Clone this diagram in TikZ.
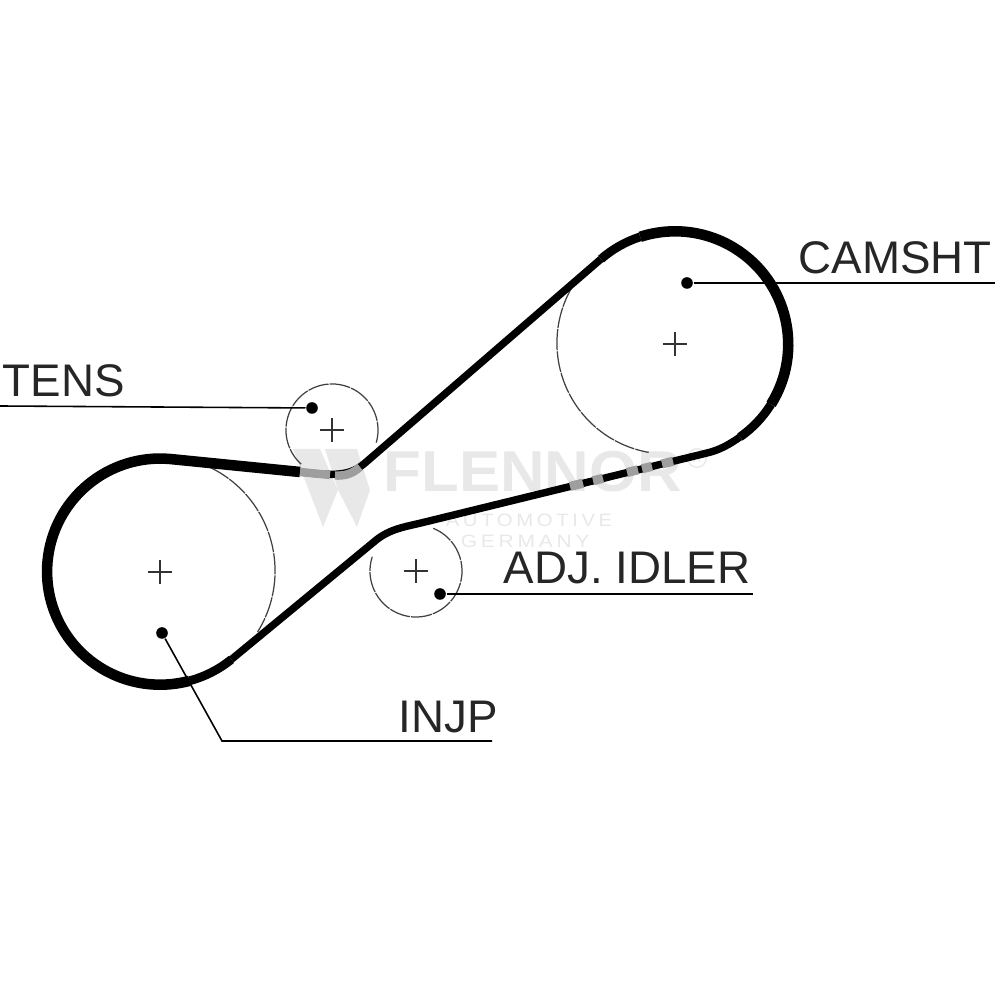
\documentclass[tikz,border=0pt]{standalone}
\usepackage{fontspec}
\setmainfont{Liberation Sans}
\newfontfamily\markfont[LetterSpace=18]{Liberation Sans}
\definecolor{markgray}{gray}{0.91}
\definecolor{beltgray}{gray}{0.62}
\tikzset{
	beltthick/.style = {line width = 3pt},
	beltmid/.style = {line width = 2.5pt},
	beltthin/.style = {line width = 2.1pt},
	beltgap/.style = {line width = 2.4pt, beltgray},
	rim/.style = {line width = 0.35pt, black!75, dash pattern = on 6pt off 0.3pt},
	hubmark/.style = {line width = 0.4pt, black!80},
	pin/.style = {circle, fill, inner sep = 0pt, minimum size = 3.3pt},
	leader/.style = {line width = 0.45pt},
	tag/.style = {anchor = base west, inner sep = 0pt, black!85, font = \fontsize{13}{13}\selectfont},
	brand/.style = {anchor = base west, inner sep = 0pt, markgray}
}
\begin{document}
\begin{tikzpicture}[x = 0.01cm, y = 0.01cm]
\useasboundingbox (0, 0) rectangle (1000, 1000);
% watermark
\fill[markgray] (293, 551) -- (320, 551) -- (338, 510) -- (323, 473) -- cycle;
\fill[markgray] (325, 551) -- (357, 551) -- (370, 510) -- (357, 473) -- (338, 510) -- cycle;
\node[brand, xscale = 1.07, font = \fontsize{16.4}{16.4}\selectfont\bfseries] (flennor) at (383, 508) {FLENNOR};
\node[brand, xscale = 1.13, font = \fontsize{5.1}{5.1}\markfont] (automotive) at (445, 473) {AUTOMOTIVE};
\node[brand, xscale = 1.17, font = \fontsize{5.1}{5.1}\markfont] (germany) at (460, 452) {GERMANY};
\node[draw = markgray, circle, inner sep = 0.6pt, markgray, font = \fontsize{3.6}{3.6}\selectfont] (regmark) at (697, 542) {R};
% pulleys
\coordinate (injp) at (160, 428);
\coordinate (cam) at (675, 656);
\coordinate (tens) at (332, 570);
\coordinate (idler) at (416, 429);
\draw[rim] (668, 657) ++(150:1.11cm) arc[start angle = 150, end angle = 260, radius = 1.11cm];
\draw[rim] (160, 429) ++(64:1.15cm) arc[start angle = 64, end angle = -32, radius = 1.15cm];
\draw[rim] (tens) ++(-16:0.46cm) arc[start angle = -16, end angle = 228, radius = 0.46cm];
\draw[rim] (idler) ++(68:0.46cm) arc[start angle = 68, end angle = -198, radius = 0.46cm];
\foreach \hub in {injp, cam, tens, idler}
	\draw[hubmark] (\hub) +(-12, 0) -- +(12, 0) (\hub) +(0, -12) -- +(0, 12);
% belt
\coordinate (camlow) at (740, 563);
\coordinate (tensright) at (365, 537);
\coordinate (tensleft) at (300, 528);
\coordinate (idlerleft) at (375, 459);
\coordinate (idlertop) at (425, 478);
\coordinate (camin) at (707, 547);
\draw[beltmid] (camlow) arc[start angle = -55, end angle = -32, radius = 1.13cm] coordinate (camright);
\draw[beltthick] (camright) arc[start angle = -32, end angle = 108, radius = 1.13cm] coordinate (camupper);
\draw[beltmid] (camupper) arc[start angle = 108, end angle = 131, radius = 1.13cm] coordinate (camtop);
\draw[beltthin] (camtop) -- (tensright) .. controls (350, 524) and (335, 524) .. (tensleft);
\draw[beltthick] (tensleft) -- (170, 541) arc[start angle = 85, end angle = 285, radius = 1.13cm] coordinate (injbase);
\draw[beltmid] (injbase) arc[start angle = 285, end angle = 309, radius = 1.13cm] coordinate (injlow);
\draw[beltthin] (injlow) -- (idlerleft) .. controls (390, 471.5) and (405, 473) .. (idlertop) -- (camin) .. controls (720, 550) and (730, 556) .. (camlow);
% belt under the letters
\draw[beltgap] (300, 528) -- (330, 525) (335, 524.5) .. controls (345, 524) and (352, 526) .. (360, 533);
\foreach \a/\b in {570/583, 593/603, 627/638, 642/652, 662/673}
	\draw[beltgap, line width = 2.6pt] (\a, {477 + 0.244*(\a - 420)}) -- (\b, {477 + 0.244*(\b - 420)});
% labels
\node[pin] (campin) at (687, 717) {};
\node[pin] (tenspin) at (312, 592) {};
\node[pin] (idlerpin) at (440, 406) {};
\node[pin] (injppin) at (162, 367) {};
\coordinate (camend) at (995, 717);
\coordinate (tensend) at (0, 594);
\coordinate (idlerend) at (753, 406);
\coordinate (injpknee) at (222, 259);
\coordinate (injpend) at (492, 259);
\draw[leader] (campin) -- (camend);
\draw[leader] (tenspin) -- (tensend);
\draw[leader] (idlerpin) -- (idlerend);
\draw[leader] (injppin) -- (injpknee) -- (injpend);
\node[tag] (camlabel) at (798, 726) {CAMSHT};
\node[tag] (tenslabel) at (2, 603) {TENS};
\node[tag] (idlerlabel) at (503, 416) {ADJ. IDLER};
\node[tag] (injplabel) at (398, 267) {INJP};
\end{tikzpicture}
\end{document}
